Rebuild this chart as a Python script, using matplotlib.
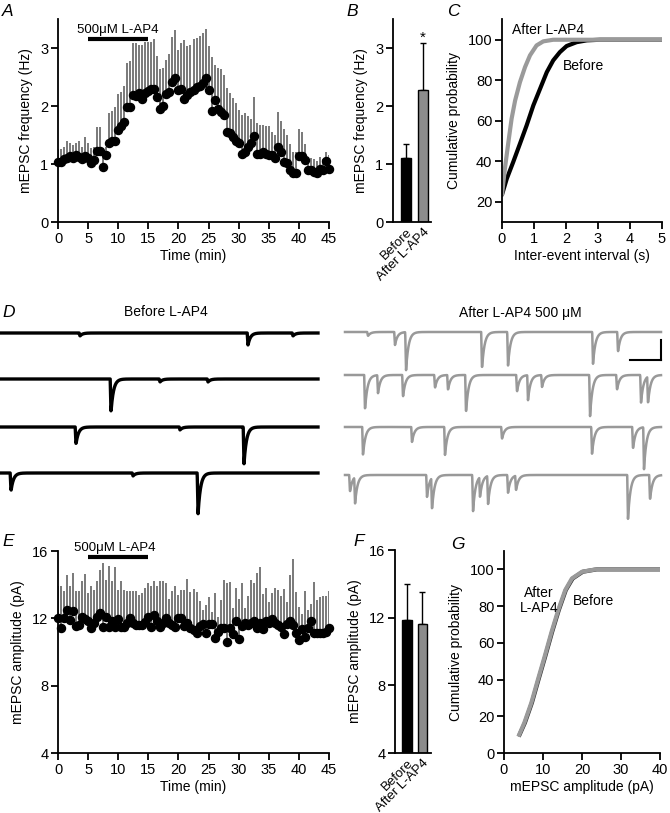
import numpy as np
import matplotlib
matplotlib.use("Agg")
import matplotlib.pyplot as plt

plt.rcParams['font.family'] = ['Liberation Sans', 'DejaVu Sans']
plt.rcParams['font.size'] = 10

# ---------------- DATA ----------------
# Panel A: mEPSC frequency (Hz), mean and top of SEM bar, every 0.5 min
freq_mean = [1.04, 1.03, 1.08, 1.11, 1.13, 1.10, 1.15, 1.12, 1.08, 1.14,
             1.10, 1.01, 1.07, 1.23, 1.22, 0.95, 1.16, 1.37, 1.39, 1.40,
             1.58, 1.66, 1.72, 1.98, 1.98, 2.19, 2.18, 2.23, 2.12, 2.22,
             2.26, 2.29, 2.29, 2.16, 1.95, 2.00, 2.21, 2.25, 2.42, 2.49,
             2.27, 2.29, 2.12, 2.19, 2.24, 2.27, 2.32, 2.34, 2.40, 2.49,
             2.27, 1.92, 2.10, 1.95, 1.90, 1.84, 1.55, 1.54, 1.46, 1.40,
             1.37, 1.17, 1.21, 1.30, 1.37, 1.49, 1.17, 1.17, 1.21, 1.17,
             1.16, 1.16, 1.10, 1.30, 1.21, 1.04, 1.01, 0.90, 0.85, 0.85,
             1.13, 1.14, 1.07, 0.90, 0.89, 0.87, 0.84, 0.92, 0.90, 1.05, 0.92]
freq_top = [1.26, 1.26, 1.30, 1.40, 1.36, 1.33, 1.37, 1.39, 1.30, 1.47, 1.36, 1.27,
            1.30, 1.63, 1.64, 1.21, 1.30, 1.88, 1.91, 1.98, 2.21, 2.25, 2.34, 2.74,
            2.77, 3.09, 3.09, 3.06, 3.06, 3.10, 3.11, 3.10, 3.15, 2.86, 2.63, 2.66,
            2.80, 2.89, 3.19, 3.31, 2.97, 3.09, 3.13, 3.03, 3.06, 3.15, 3.17, 3.20,
            3.26, 3.32, 3.03, 2.84, 2.71, 2.66, 2.63, 2.54, 2.31, 2.22, 2.13, 2.05,
            1.93, 1.85, 1.88, 1.83, 1.78, 2.15, 1.70, 1.68, 1.67, 1.66, 1.66, 1.55,
            1.50, 1.90, 1.75, 1.60, 1.50, 1.35, 1.20, 1.20, 1.60, 1.55, 1.35, 1.10,
            1.10, 1.08, 1.05, 1.12, 1.08, 1.20, 1.15]

# Panel E: mEPSC amplitude (pA)
amp_mean = [12.0, 11.45, 12.0, 12.5, 11.9, 12.45, 11.55, 11.6, 12.1, 11.98,
            11.85, 11.4, 11.75, 12.1, 12.3, 11.5, 12.1, 11.5, 11.85, 11.5,
            11.95, 11.5, 11.5, 11.75, 12.0, 11.75, 11.6, 11.6, 11.6, 11.8,
            12.1, 11.5, 12.2, 11.85, 11.5, 11.75, 12.0, 11.75, 11.6, 11.5,
            12.0, 12.0, 11.55, 11.75, 11.45, 11.3, 11.15, 11.55, 11.65, 11.15,
            11.65, 11.65, 10.85, 11.2, 11.45, 11.45, 10.6, 11.45, 11.05, 11.85,
            10.75, 11.55, 11.75, 11.6, 11.75, 11.85, 11.4, 11.75, 11.35, 11.85,
            11.75, 11.95, 11.75, 11.6, 11.5, 11.05, 11.65, 11.85, 11.6, 11.15,
            10.7, 11.35, 10.9, 11.4, 11.85, 11.1, 11.1, 11.1, 11.15, 11.2, 11.45]
amp_top = [13.9, 13.9, 13.6, 14.55, 13.9, 14.7, 13.6, 13.6, 14.2, 14.65, 13.5,
           13.9, 13.7, 14.2, 14.85, 15.3, 14.25, 15.1, 14.2, 15.05, 13.7, 14.2,
           13.7, 13.65, 13.65, 13.65, 13.6, 13.4, 13.5, 13.8, 14.1, 13.9, 14.2,
           13.95, 14.2, 14.2, 14.1, 13.15, 13.6, 13.9, 13.4, 13.7, 13.7, 14.35,
           13.58, 13.72, 13.58, 13.05, 12.5, 12.8, 13.25, 12.4, 13.48, 12.1, 13.1,
           14.28, 14.1, 14.15, 12.6, 13.78, 13.15, 14.1, 12.6, 13.3, 14.3, 14.1,
           14.7, 15.05, 13.44, 13.78, 12.99, 13.52, 13.78, 13.68, 13.3, 13.72,
           12.99, 14.57, 15.52, 13.58, 12.69, 12.25, 13.62, 12.5, 12.85, 14.18,
           13.1, 13.25, 13.3, 13.3, 13.62]

bar_labels = ['Before', 'After L-AP4']
freq_bar_mean = [1.10, 2.27]
freq_bar_sem = [0.25, 0.81]
amp_bar_mean = [11.85, 11.65]
amp_bar_sem = [2.15, 1.85]

# Panel C: cumulative inter-event interval
iei_before_x = [0, 0.15, 0.35, 0.56, 0.77, 0.98, 1.19, 1.40, 1.60, 1.81, 2.02, 2.33, 2.65, 3.06, 4.0, 5.0]
iei_before_y = [23.5, 31.4, 39.6, 48.6, 57.7, 67.6, 75.8, 84.0, 89.8, 93.9, 96.9, 98.8, 99.7, 100, 100, 100]
iei_after_x = [0, 0.09, 0.20, 0.30, 0.41, 0.56, 0.72, 0.875, 1.08, 1.29, 1.60, 2.5, 5.0]
iei_after_y = [23.5, 36.3, 49.5, 61.0, 70.0, 79.0, 86.5, 92.3, 97.2, 99.2, 100, 100, 100]

# Panel G: cumulative amplitude
camp_before_x = [4.0, 5.35, 7.15, 8.85, 10.55, 12.35, 14.05, 15.85, 17.6, 20.2, 23.8, 30, 40]
camp_before_y = [10, 16.4, 27.3, 40, 52.4, 66, 77.8, 88.7, 95, 98.7, 100, 100, 100]
camp_after_x = [3.9, 5.2, 7.0, 8.7, 10.4, 12.2, 13.9, 15.7, 17.4, 20.0, 23.5, 30, 40]
camp_after_y = [10, 16.4, 27.3, 40, 52.4, 66, 77.8, 88.7, 95, 98.7, 100, 100, 100]

# Panel D: example traces, events as (position along trace, amplitude)
before_events = [
    [(80, 3), (248, 12), (293, 3)],
    [(111, 33), (160, 3), (208, 3)],
    [(76, 17), (180, 3), (244, 37)],
    [(11, 18), (133, 3), (198, 42)],
]
after_events = [
    [(23, 4), (50, 13), (61, 39), (137, 37), (163, 34), (248, 32), (273, 20)],
    [(20, 35), (33, 18), (58, 22), (90, 13), (103, 15), (121, 38), (172, 17),
     (183, 25), (197, 12), (245, 42), (272, 15), (296, 28), (303, 27)],
    [(18, 28), (67, 15), (100, 28), (157, 12), (247, 27), (288, 22), (299, 42)],
    [(5, 17), (10, 27), (82, 22), (87, 32), (128, 37), (135, 20), (143, 29),
     (163, 18), (171, 15), (283, 44), (305, 25)],
]

W, H = 670, 813
fig = plt.figure(figsize=(W / 100, H / 100), dpi=100)


def px_axes(l, t, r, b):
    return fig.add_axes([l / W, 1 - b / H, (r - l) / W, (b - t) / H])


def style(ax):
    for s in ['top', 'right']:
        ax.spines[s].set_visible(False)
    for s in ['left', 'bottom']:
        ax.spines[s].set_linewidth(1.3)
    ax.tick_params(direction='out', length=5, width=1.3, labelsize=10.5, pad=2)


def letter(x, y, s):
    fig.text(x / W, 1 - y / H, s, fontsize=12.5, style='italic', ha='center', va='center')


err_col = '#555555'

# ---- A ----
axA = px_axes(58, 19, 329, 222)
style(axA)
tA = 0.5 * np.arange(len(freq_mean))
axA.vlines(tA, freq_mean, freq_top, color=err_col, lw=1.1, zorder=2)
axA.plot(tA, freq_mean, 'o', color='k', ms=5.8, zorder=3, clip_on=False)
axA.set_xlim(0, 45)
axA.set_ylim(0, 3.5)
axA.set_xticks(np.arange(0, 46, 5))
axA.set_yticks([0, 1, 2, 3])
axA.set_xlabel('Time (min)', fontsize=10, labelpad=2)
axA.set_ylabel('mEPSC frequency (Hz)', fontsize=10, labelpad=5)
axA.plot([5, 15], [3.16, 3.16], color='k', lw=3, solid_capstyle='butt', clip_on=False)
axA.text(10, 3.21, '500μM L-AP4', ha='center', va='bottom', fontsize=9.5)

# ---- B ----
axB = px_axes(393, 19, 431, 222)
style(axB)
xb = np.arange(2)
axB.bar(xb, freq_bar_mean, width=0.62, color=['k', '#8c8c8c'], edgecolor='k', lw=1, zorder=2)
axB.errorbar(xb, freq_bar_mean, yerr=[[0, 0], freq_bar_sem], fmt='none', ecolor='k',
             elinewidth=1, capsize=2.5, capthick=1, zorder=1)
axB.text(1, freq_bar_mean[1] + freq_bar_sem[1] - 0.02, '*', ha='center', va='bottom', fontsize=11)
axB.set_xlim(-0.81, 1.5)
axB.set_ylim(0, 3.5)
axB.set_yticks([0, 1, 2, 3])
axB.set_xticks(xb)
axB.set_xticklabels(bar_labels, rotation=45, ha='right', rotation_mode='anchor', fontsize=9.5)
axB.tick_params(axis='x', length=0, pad=3)
axB.set_ylabel('mEPSC frequency (Hz)', fontsize=10, labelpad=5)

# ---- C ----
axC = px_axes(502, 19.5, 662, 222)
style(axC)
axC.plot(iei_before_x, iei_before_y, color='k', lw=3, solid_capstyle='round')
axC.plot(iei_after_x, iei_after_y, color='#9a9a9a', lw=3, solid_capstyle='round')
axC.set_xlim(0, 5)
axC.set_ylim(10, 110)
axC.set_xticks(range(6))
axC.set_yticks([20, 40, 60, 80, 100])
axC.set_xlabel('Inter-event interval (s)', fontsize=10, labelpad=2)
axC.set_ylabel('Cumulative probability', fontsize=10, labelpad=5)
axC.text(0.3, 105, 'After L-AP4', ha='left', va='center', fontsize=10)
axC.text(1.9, 87, 'Before', ha='left', va='center', fontsize=10)

# ---- D ----
axD = px_axes(0, 290, 670, 530)
axD.set_xlim(0, 670)
axD.set_ylim(530, 290)
axD.axis('off')


def trace(x0, x1, base, events, color, lw):
    x = np.linspace(x0, x1, 1600)
    y = np.zeros_like(x)
    for pos, a in events:
        p = x0 + pos
        rise = (x >= p - 0.8) & (x < p)
        y[rise] += a * (x[rise] - (p - 0.8)) / 0.8
        dec = x >= p
        y[dec] += a * np.exp(-(x[dec] - p) / 2.5)
    axD.plot(x, base + y, color=color, lw=lw, solid_joinstyle='round')


before_bases = [333, 379, 427, 473]
after_bases = [332, 375, 427, 475]
for b, ev in zip(before_bases, before_events):
    trace(0, 318, b, ev, 'k', 2.4)
for b, ev in zip(after_bases, after_events):
    trace(345, 661, b, ev, '#999999', 1.8)
axD.plot([630, 661], [360, 360], color='k', lw=1.5)
axD.plot([661, 661], [360, 340], color='k', lw=1.5)
axD.text(166, 312, 'Before L-AP4', ha='center', va='center', fontsize=10)
axD.text(520, 313, 'After L-AP4 500 μM', ha='center', va='center', fontsize=10)

# ---- E ----
axE = px_axes(58, 551, 329, 753)
style(axE)
tE = 0.5 * np.arange(len(amp_mean))
axE.vlines(tE, amp_mean, amp_top, color=err_col, lw=1.1, zorder=2)
axE.plot(tE, amp_mean, 'o', color='k', ms=5.8, zorder=3, clip_on=False)
axE.set_xlim(0, 45)
axE.set_ylim(4, 16)
axE.set_xticks(np.arange(0, 46, 5))
axE.set_yticks([4, 8, 12, 16])
axE.set_xlabel('Time (min)', fontsize=10, labelpad=2)
axE.set_ylabel('mEPSC amplitude (pA)', fontsize=10, labelpad=5)
axE.plot([5, 15], [15.64, 15.64], color='k', lw=3, solid_capstyle='butt', clip_on=False)
axE.text(9.5, 15.8, '500μM L-AP4', ha='center', va='bottom', fontsize=9.5, clip_on=False)

# ---- F ----
axF = px_axes(395, 550, 431, 753)
style(axF)
axF.bar(xb, amp_bar_mean, width=0.62, color=['k', '#8c8c8c'], edgecolor='k', lw=1, zorder=2)
axF.errorbar(xb, amp_bar_mean, yerr=[[0, 0], amp_bar_sem], fmt='none', ecolor='k',
             elinewidth=1, capsize=2.5, capthick=1, zorder=1)
axF.set_xlim(-0.75, 1.55)
axF.set_ylim(4, 16)
axF.set_yticks([4, 8, 12, 16])
axF.set_xticks(xb)
axF.set_xticklabels(bar_labels, rotation=45, ha='right', rotation_mode='anchor', fontsize=9.5)
axF.tick_params(axis='x', length=0, pad=3)
axF.set_ylabel('mEPSC amplitude (pA)', fontsize=10, labelpad=5)

# ---- G ----
axG = px_axes(504, 551, 660, 753)
style(axG)
axG.plot(camp_before_x, camp_before_y, color='#333333', lw=3)
axG.plot(camp_after_x, camp_after_y, color='#9a9a9a', lw=3)
axG.set_xlim(0, 40)
axG.set_ylim(0, 110)
axG.set_xticks([0, 10, 20, 30, 40])
axG.set_yticks([0, 20, 40, 60, 80, 100])
axG.set_xlabel('mEPSC amplitude (pA)', fontsize=10, labelpad=2)
axG.set_ylabel('Cumulative probability', fontsize=10, labelpad=5)
axG.text(9.0, 83, 'After\nL-AP4', ha='center', va='center', fontsize=10, linespacing=1.05)
axG.text(17.6, 83, 'Before', ha='left', va='center', fontsize=10)

letter(8, 12, 'A')
letter(352, 12, 'B')
letter(453, 12, 'C')
letter(9, 312, 'D')
letter(8, 541, 'E')
letter(359, 541, 'F')
letter(458, 544, 'G')

fig.savefig('out.png', dpi=100)
